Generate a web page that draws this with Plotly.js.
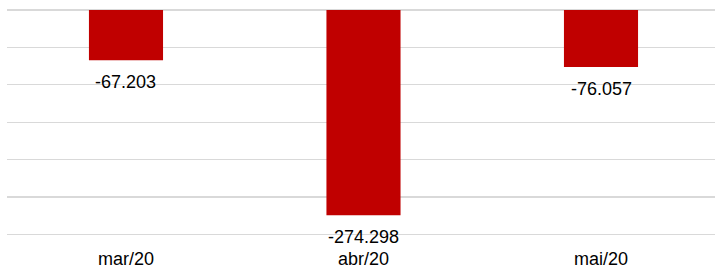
<!DOCTYPE html>
<html>
<head>
<meta charset="utf-8">
<script src="https://cdn.plot.ly/plotly-3.0.1.min.js"></script>
<style>html,body{margin:0;padding:0;background:#fff;}#chart{width:715px;height:268px;}</style>
</head>
<body>
<div id="chart"></div>
<script>
const categories = ['mar/20', 'abr/20', 'mai/20'];
const values = [-67203, -274298, -76057];

const trace = {
  type: 'bar',
  x: categories,
  y: values,
  width: 0.312,
  marker: {color: '#c00000'},
  hoverinfo: 'none'
};

const fmt = v => (v < 0 ? '-' : '') + Math.abs(v).toString().replace(/\B(?=(\d{3})+(?!\d))/g, '.');

const annotations = categories.map((c, i) => ({
  x: c, y: values[i], xref: 'x', yref: 'y',
  text: fmt(values[i]),
  showarrow: false,
  xanchor: 'center', yanchor: 'top',
  yshift: -10,
  font: {family: 'Liberation Sans, Arial, sans-serif', size: 18, color: '#000'}
}));

const layout = {
  width: 715, height: 268,
  margin: {l: 7, r: 0, t: 9, b: 30, pad: 0},
  paper_bgcolor: '#fff', plot_bgcolor: '#fff',
  separators: ',.',
  showlegend: false,
  font: {family: 'Liberation Sans, Arial, sans-serif', size: 18, color: '#000'},
  annotations: annotations,
  xaxis: {
    type: 'category',
    range: [-0.501, 2.48],
    showgrid: false, showline: false, zeroline: false,
    ticks: '', ticklabelstandoff: 8,
    tickfont: {size: 18, color: '#000'}
  },
  yaxis: {
    range: [-304813, 1337],
    dtick: 50000, tick0: 0,
    showgrid: true, gridcolor: '#d9d9d9', gridwidth: 1.3,
    zeroline: true, zerolinecolor: '#d9d9d9', zerolinewidth: 1.3,
    showticklabels: false, ticks: '', showline: false
  }
};

Plotly.newPlot('chart', [trace], layout, {staticPlot: true, displayModeBar: false});
</script>
</body>
</html>
